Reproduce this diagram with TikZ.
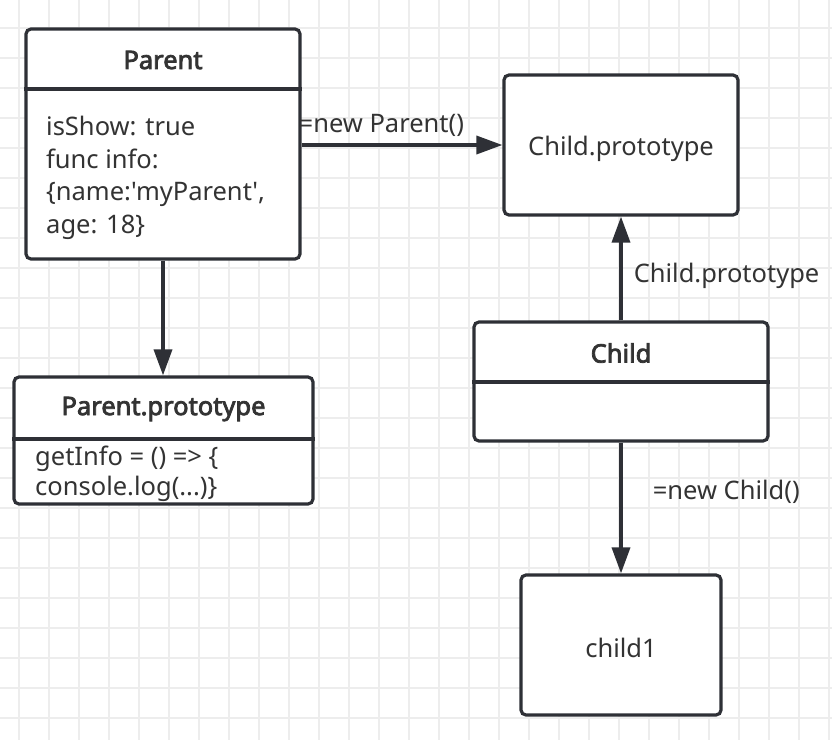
\documentclass[tikz,border=0pt]{standalone}
\usepackage{fontspec}
\setmainfont{Noto Sans}[Ligatures=TeXOff]
\newfontfamily\ttlfont{Noto Sans}[FakeBold=3]
\usetikzlibrary{arrows.meta}
\definecolor{ink}{HTML}{2E3036}
\definecolor{txt}{HTML}{333333}
\definecolor{gridc}{HTML}{EDEDED}
\begin{document}
\begin{tikzpicture}[x=1pt,y=-1pt,
  box/.style={draw=ink, line width=3.2pt, rounded corners=5pt, fill=white, inner sep=0pt},
  lbl/.style={text=txt, font=\fontsize{25.5}{30}\selectfont, inner sep=0pt},
  ttl/.style={text=txt, font=\ttlfont\fontsize{25.5}{30}\selectfont, inner sep=0pt},
  conn/.style={draw=ink, line width=3.5pt, -{Triangle[length=26pt,width=18pt]}},
  divider/.style={draw=ink, line width=3.2pt},
  gridline/.style={draw=gridc, line width=1.5pt}
]
\fill[white] (0,0) rectangle (832,740);
\useasboundingbox (0,0) rectangle (832,740);
\foreach \x in {19,49,...,829} \draw[gridline] (\x,0) -- (\x,740);
\foreach \y in {28,58,...,738} \draw[gridline] (0,\y) -- (832,\y);

% boxes
\node[box, minimum width=274pt, minimum height=230pt] (parent) at (163,144) {};
\node[box, minimum width=299pt, minimum height=127pt] (pproto) at (163.5,440.5) {};
\node[box, minimum width=234pt, minimum height=140pt] (cproto) at (621,145) {};
\node[box, minimum width=294pt, minimum height=119pt] (child) at (621,381.5) {};
\node[box, minimum width=200pt, minimum height=140pt] (child1) at (621,645) {};

% dividers
\coordinate (pdiv) at (0,89);
\coordinate (ppdiv) at (0,439);
\coordinate (cdiv) at (0,382);
\draw[divider] (parent.west |- pdiv) -- (parent.east |- pdiv);
\draw[divider] (pproto.west |- ppdiv) -- (pproto.east |- ppdiv);
\draw[divider] (child.west |- cdiv) -- (child.east |- cdiv);

% texts
\node[ttl] (parentT) at (163,60) {Parent};
\node[lbl, align=left, anchor=west, font=\fontsize{25.5}{32.7}\selectfont] (parentB) at (46,178)
  {isShow: true\\func info:\\\{name:'myParent',\\age: 18\}};
\node[ttl] (pprotoT) at (163.5,409) {Parent.prototype};
\node[lbl, align=left, anchor=west] (pprotoB) at (35,473.5) {getInfo = () => \{\\console.log(...)\}};
\node[lbl, yshift=-3.5pt] (cprotoT) at (cproto.center) {Child.prototype};
\node[ttl] (childT) at (621,353) {Child};
\node[lbl, yshift=-2.5pt] (child1T) at (child1.center) {child1};

% connectors
\draw[conn] (parent.east |- cproto.west) -- (cproto.west)
  node[lbl, pos=0.397, yshift=20pt] (lblA) {=new Parent()};
\draw[conn] (parent.south) -- (parent.south |- pproto.north);
\draw[conn] (child.north) -- (cproto.south)
  node[lbl, pos=0.5, anchor=west, xshift=11pt, yshift=-7pt] (lblB) {Child.prototype};
\draw[conn] (child.south) -- (child1.north)
  node[lbl, pos=0.5, anchor=west, xshift=30pt, yshift=16pt] (lblC) {=new Child()};
\end{tikzpicture}
\end{document}
